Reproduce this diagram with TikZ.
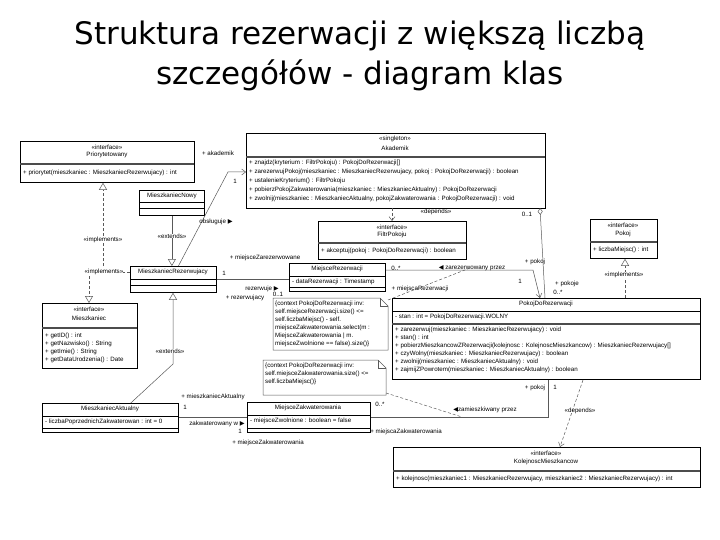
\documentclass[tikz,border=0pt]{standalone}
\usepackage{fontspec}
\setmainfont{Liberation Sans}
\newfontfamily\dvs{DejaVu Sans}
\usetikzlibrary{arrows.meta,shapes.misc}
\begin{document}
\begin{tikzpicture}[x=1pt,y=-1pt,
 box/.style={draw,line width=0.8pt,fill=white,inner sep=0,anchor=north west},
 tc/.style={font=\fontsize{6.2}{6.5}\selectfont,inner sep=0},
 tl/.style={tc,anchor=west},
 sep/.style={line width=0.5pt},
 dsep/.style={line width=1.3pt,gray!60!black},
 ln/.style={line width=0.5pt,gray!70!black},
 dln/.style={ln,dashed,dash pattern=on 3pt off 2pt},
 nav/.style={-{Straight Barb[length=4pt,width=6pt]}},
 gen/.style={-{Triangle[open,length=7pt,width=8pt]}},
 lab/.style={tc}]
\useasboundingbox (0,0) rectangle (720,540);
\node[font=\dvs\fontsize{31}{40}\selectfont,align=center] (title) at (360,56) {Struktura rezerwacji z większą liczbą\\szczegółów - diagram klas};

% Priorytetowany
\node[box,minimum width=174pt,minimum height=41pt] (prio) at (20,141) {};
\node[tc] (prio1) at (107,147) {<<interface>>};
\node[tc] (prio2) at (107,155) {Priorytetowany};
\draw[dsep] (20,164) -- (194,164);
\node[tl] (prio3) at (23,173) {+ priorytet(mieszkaniec : MieszkaniecRezerwujacy) : int};

% Akademik
\node[box,minimum width=299pt,minimum height=75pt] (akad) at (246,133) {};
\node[tc] (ak1) at (395,139) {<<singleton>>};
\node[tc] (ak2) at (395,148) {Akademik};
\draw[dsep] (246,157) -- (545,157);
\node[tl] (ak3) at (249,163) {+ znajdz(kryterium : FiltrPokoju) : PokojDoRezerwacji[]};
\node[tl] (ak4) at (249,172) {+ zarezerwujPokoj(mieszkaniec : MieszkaniecRezerwujacy, pokoj : PokojDoRezerwacji) : boolean};
\node[tl] (ak5) at (249,181) {+ ustalenieKryterium() : FiltrPokoju};
\node[tl] (ak6) at (249,190) {+ pobierzPokojZakwaterowania(mieszkaniec : MieszkaniecAktualny) : PokojDoRezerwacji};
\node[tl] (ak7) at (249,199) {+ zwolnij(mieszkaniec : MieszkaniecAktualny, pokojZakwaterowania : PokojDoRezerwacji) : void};

% MieszkaniecNowy
\node[box,minimum width=65pt,minimum height=25pt] (mn) at (139,190) {};
\node[tc] (mn1) at (172,196) {MieszkaniecNowy};
\draw[sep] (139,202) -- (204,202) (139,208) -- (204,208);

% FiltrPokoju
\node[box,minimum width=148pt,minimum height=38pt] (filtr) at (318,221) {};
\node[tc] (f1) at (392,227) {<<interface>>};
\node[tc] (f2) at (392,235) {FiltrPokoju};
\draw[dsep] (318,243) -- (466,243);
\node[tl] (f3) at (321,251) {+ akceptuj(pokoj : PokojDoRezerwacji) : boolean};

% Pokoj
\node[box,minimum width=67pt,minimum height=39pt] (pokoj) at (590,219) {};
\node[tc] (p1) at (623,225) {<<interface>>};
\node[tc] (p2) at (623,234) {Pokoj};
\draw[dsep] (590,242) -- (657,242);
\node[tl] (p3) at (593,250) {+ liczbaMiejsc() : int};

% MieszkaniecRezerwujacy
\node[box,minimum width=86pt,minimum height=26pt] (mr) at (130,266) {};
\node[tc] (mr1) at (173,272) {MieszkaniecRezerwujacy};
\draw[sep] (130,279) -- (216,279) (130,285) -- (216,285);

% MiejsceRezerwacji
\node[box,minimum width=96pt,minimum height=28pt] (mrez) at (289,263) {};
\node[tc] (mz1) at (337,269) {MiejsceRezerwacji};
\draw[sep] (289,276) -- (385,276) (289,287) -- (385,287);
\node[tl] (mz2) at (292,281.5) {- dataRezerwacji : Timestamp};

% Mieszkaniec
\node[box,minimum width=95pt,minimum height=65pt] (miesz) at (42,303) {};
\node[tc] (m1) at (89,309) {<<interface>>};
\node[tc] (m2) at (89,318) {Mieszkaniec};
\draw[dsep] (42,328) -- (137,328);
\node[tl] (m3) at (45,336) {+ getID() : int};
\node[tl] (m4) at (45,344) {+ getNazwisko() : String};
\node[tl] (m5) at (45,352) {+ getImie() : String};
\node[tl] (m6) at (45,360) {+ getDataUrodzenia() : Date};

% PokojDoRezerwacji
\node[box,minimum width=308pt,minimum height=81pt] (pdr) at (392,298) {};
\node[tc] (pd1) at (546,304) {PokojDoRezerwacji};
\draw[sep] (392,311) -- (700,311);
\node[tl] (pd2) at (395,317) {- stan : int = PokojDoRezerwacji.WOLNY};
\draw[dsep] (392,324) -- (700,324);
\node[tl] (pd3) at (395,330) {+ zarezerwuj(mieszkaniec : MieszkaniecRezerwujacy) : void};
\node[tl] (pd4) at (395,338) {+ stan() : int};
\node[tl] (pd5) at (395,346) {+ pobierzMieszkancowZRezerwacji(kolejnosc : KolejnoscMieszkancow) : MieszkaniecRezerwujacy[]};
\node[tl] (pd6) at (395,354) {+ czyWolny(mieszkaniec : MieszkaniecRezerwujacy) : boolean};
\node[tl] (pd7) at (395,362) {+ zwolnij(mieszkaniec : MieszkaniecAktualny) : void};
\node[tl] (pd8) at (395,370) {+ zajmijZPowrotem(mieszkaniec : MieszkaniecAktualny) : boolean};

% Notes
\draw[ln,fill=white] (273,298) -- (380,298) -- (388,306) -- (388,350) -- (273,350) -- cycle;
\draw[ln] (380,298) -- (380,306) -- (388,306);
\coordinate (n1) at (388,300);
\node[tc,anchor=north west,align=left,font=\fontsize{6.2}{8}\selectfont] (note1) at (275,301) {\{context PokojDoRezerwacji inv:\\self.miejsceRezerwacji.size() <=\\self.liczbaMiejsc() - self.\\miejsceZakwaterowania.select(m :\\MiejsceZakwaterowania | m.\\miejsceZwolnione == false).size()\}};
\draw[ln,fill=white] (263,360) -- (378,360) -- (386,368) -- (386,395) -- (263,395) -- cycle;
\draw[ln] (378,360) -- (378,368) -- (386,368);
\node[tc,anchor=north west,align=left,font=\fontsize{6.2}{8}\selectfont] (note2) at (265,363) {\{context PokojDoRezerwacji inv:\\self.miejsceZakwaterowania.size() <=\\self.liczbaMiejsc()\}};

% MieszkaniecAktualny
\node[box,minimum width=136pt,minimum height=29pt] (ma) at (42,403) {};
\node[tc] (ma1) at (110,409) {MieszkaniecAktualny};
\draw[sep] (42,416) -- (178,416) (42,428) -- (178,428);
\node[tl] (ma2) at (45,422) {- liczbaPoprzednichZakwaterowan : int = 0};

% MiejsceZakwaterowania
\node[box,minimum width=123pt,minimum height=30pt] (mzak) at (247,402) {};
\node[tc] (mk1) at (308,408) {MiejsceZakwaterowania};
\draw[sep] (247,415) -- (370,415) (247,428) -- (370,428);
\node[tl] (mk2) at (250,421) {- miejsceZwolnione : boolean = false};

% Kolejnosc
\node[box,minimum width=307pt,minimum height=40pt] (kol) at (393,447) {};
\node[tc] (k1) at (546,453) {<<interface>>};
\node[tc] (k2) at (546,462) {KolejnoscMieszkancow};
\draw[dsep] (393,471) -- (700,471);
\node[tl] (k3) at (396,479) {+ kolejnosc(mieszkaniec1 : MieszkaniecRezerwujacy, mieszkaniec2 : MieszkaniecRezerwujacy) : int};

% ---- connectors ----
\draw[ln,nav] (mr.north) ++(5,0) coordinate (c1) -- (228,172) -- (akad.west|-0,172);
\node[lab] at (218,153) {+ akademik};
\node[lab] at (235,181) {1};
\node[lab] at (216,222) {obsługuje {\dvs ▶}};

\draw[ln,gen] (mn.south) -- (mn.south|-mr.north);
\node[lab,fill=white] at (172,236) {<<extends>>};

\draw[dln,gen] (103,266) -- (prio.south-|103,0);
\node[lab,fill=white] at (103,240) {<<implements>>};
\draw[dln,gen] (mr.west|-0,272) -- (89,272) -- (miesz.north-|89,0);
\node[lab,fill=white] at (104,272) {<<implements>>};

\draw[ln,gen] (ma.north east) ++(-48,0) -- (173,364) -- (mr.south-|173,0);
\node[lab,fill=white] at (170,351) {<<extends>>};

\draw[ln] (mr.east|-0,279) -- (mrez.west|-0,279);
\node[lab] at (224,273) {1};
\node[lab] at (265,258) {+ miejsceZarezerwowane};
\node[lab] at (262,289) {rezerwuje {\dvs ▶}};
\node[lab] at (278,294) {0..1};
\node[lab] at (245,298) {+ rezerwujacy};

\draw[ln,nav] (mrez.east|-0,270) -- (533,270) -- (540,298);
\node[lab] at (396,268) {0..*};
\node[lab] at (472,268) {{\dvs ◀} zarezerwowany przez};
\node[lab] at (420,289) {+ miejscaRezerwacji};
\node[lab] at (520,281) {1};
\node[lab] at (535,262) {+ pokoj};

\draw[ln,nav,{Diamond[open,length=7pt,width=5pt]}-] (540,208) -- (545,298);
\node[lab] at (527,214) {0..1};
\node[lab] at (567,284) {+ pokoje};
\node[lab] at (558,292) {0..*};

\draw[dln,nav] (392,208) -- (filtr.north-|392,0);
\node[lab] at (436,212) {<<depends>>};

\draw[dln,gen] (625,298) -- (pokoj.south-|625,0);
\node[lab,fill=white] at (624,275) {<<implements>>};

\draw[dln] (n1) -- (470,268);
\draw[dln] (386,393) -- (462,417);

\draw[ln] (mzak.east|-0,417) -- (548,417) -- (pdr.south-|548,0);
\node[lab] at (380,404) {0..*};
\node[lab] at (485,410) {{\dvs ◀}zamieszkiwany przez};
\node[lab] at (535,388) {+ pokoj};
\node[lab] at (555,387) {1};
\node[lab] at (406,432) {+ miejscaZakwaterowania};

\draw[ln] (ma.east|-0,417) -- (mzak.west|-0,417);
\node[lab] at (213,397) {+ mieszkaniecAktualny};
\node[lab] at (185,407) {1};
\node[lab] at (217,424) {zakwaterowany w {\dvs ▶}};
\node[lab] at (240,431) {1};
\node[lab] at (268,443) {+ miejsceZakwaterowania};

\draw[dln,nav] (583,380) -- (kol.north-|560,0);
\node[lab] at (580,411) {<<depends>>};
\end{tikzpicture}
\end{document}
